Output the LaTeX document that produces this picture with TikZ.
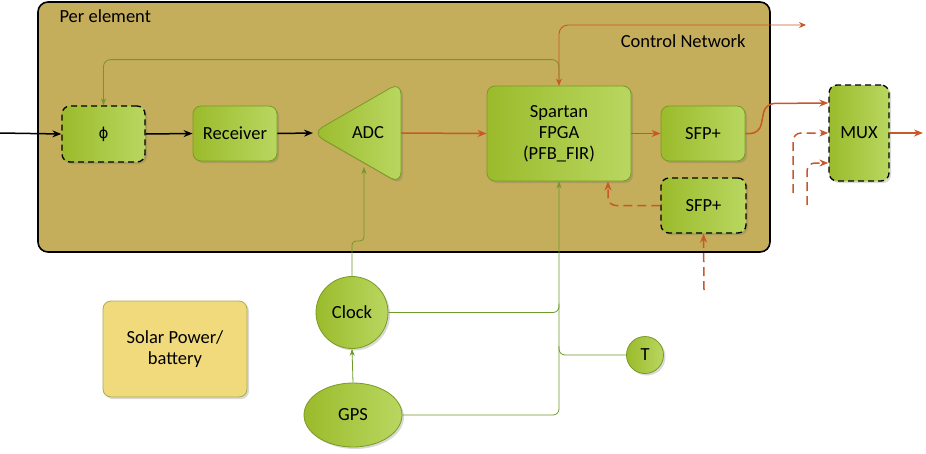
\documentclass[tikz,border=0pt]{standalone}
\usepackage{fontspec}
\setmainfont{Carlito}
\newfontfamily\dejavu{DejaVu Sans}
\usetikzlibrary{arrows.meta,shapes.geometric,shadows,calc}
\definecolor{olivebg}{HTML}{C4AD5B}
\definecolor{gdark}{HTML}{7A9A24}
\definecolor{gA}{HTML}{9BBB2C}
\definecolor{gB}{HTML}{B9D760}
\definecolor{orng}{HTML}{C8582A}
\definecolor{gline}{HTML}{6E9A2A}
\definecolor{solar}{HTML}{F1DA7C}
\definecolor{solarb}{HTML}{A8AC55}
\begin{document}
\begin{tikzpicture}[x=1pt,y=-1pt,font=\fontsize{18.5}{21}\selectfont,
  shad/.style={drop shadow={shadow xshift=2pt,shadow yshift=-2pt,opacity=0.25,fill=black!60}},
  gbox/.style={shad,draw=gdark,line width=0.8pt,rounded corners=8pt,left color=gA,right color=gB,inner sep=0pt,align=center},
  dashbox/.style={gbox,draw=black,line width=1.3pt,dash pattern=on 6pt off 4pt},
  gell/.style={shad,ellipse,draw=gdark,line width=0.8pt,left color=gA,right color=gB,inner sep=0pt},
  blk/.style={draw=black,line width=1.5pt,-{Stealth[length=9pt,width=7pt]}},
  org/.style={draw=orng,line width=1.5pt,-{Stealth[length=9pt,width=7pt]}},
  orgd/.style={org,dash pattern=on 9pt off 5pt},
  orgthin/.style={draw=orng,line width=0.9pt,{Stealth[length=7pt,width=6pt]}-{Stealth[length=7pt,width=6pt]}},
  gl/.style={draw=gline,line width=0.8pt},
  gla/.style={gl,-{Stealth[length=7pt,width=5pt]}}
]
\useasboundingbox (0,0) rectangle (926,453);
% outer panel
\draw[fill=olivebg,draw=black,line width=1.6pt,rounded corners=10pt] (38,2) rectangle (770,252);
\node[anchor=west] (per) at (56,16) {Per element};
\node[anchor=east] (cnt) at (749,41) {Control Network};
% nodes
\node[dashbox,minimum width=83pt,minimum height=56pt] (phi) at (103.5,134) {{\dejavu\fontsize{15}{18}\selectfont ϕ}};
\node[gbox,minimum width=84pt,minimum height=55pt] (rec) at (235,133.5) {Receiver};
\draw[shad,draw=gdark,line width=0.8pt,left color=gA,right color=gB,rounded corners=12pt]
  (312,133) -- (401,82) -- (401,184) -- cycle;
\coordinate (adctip) at (313,133);
\coordinate (adcr) at (401,133);
\coordinate (adcbot) at (364,167);
\node (adc) at (368,133) {ADC};
\node[gbox,minimum width=144pt,minimum height=95pt] (fpga) at (559,133.5) {Spartan\\FPGA\\(PFB\_FIR)};
\node[gbox,minimum width=84pt,minimum height=55pt] (sfp1) at (703,133.5) {SFP+};
\node[dashbox,minimum width=85pt,minimum height=55pt] (sfp2) at (703.5,205.5) {SFP+};
\node[dashbox,minimum width=60pt,minimum height=96pt] (mux) at (859,133) {MUX};
\node[gell,minimum width=72pt,minimum height=72pt] (clock) at (352,312.5) {Clock};
\node[gell,minimum width=98pt,minimum height=64pt] (gps) at (353,415) {GPS};
\node[gell,circle,minimum size=37pt] (t) at (645,355) {T};
\node[shad,draw=solarb,line width=0.8pt,fill=solar,rounded corners=8pt,minimum width=144pt,minimum height=96pt,align=center] (solarp) at (175,349) {Solar Power/\\battery};
% coordinates for free ends
\coordinate (in) at (0,133);
\coordinate (out) at (923,133);
\coordinate (cn) at (806,25);
\coordinate (d1) at (793,193);
\coordinate (d2) at (807,205);
\coordinate (d3) at (704,290);
% green control lines
\draw[gla,rounded corners=7pt] (fpga.north) -- ++(0,-26) -| (phi.north);
\draw[gla,rounded corners=6pt] (gps.east) -| (fpga.south);
\draw[gl,rounded corners=6pt] (clock.east) -| ($(fpga.south |- clock.east)+(0,-9)$);
\draw[gl,rounded corners=6pt] (t.west) -| ($(fpga.south |- t.west)+(0,-9)$);
\draw[gla] (gps.north) -- (clock.south);
\draw[gla,rounded corners=4pt] (clock.north) |- ($(adcbot)+(0,74)$) -- (adcbot);
% signal path
\draw[blk] (in) -- (phi.west);
\draw[blk] (phi.east) -- (rec.west);
\draw[blk] (rec.east) -- (adctip);
\draw[org] (adcr) -- (fpga.west);
\draw[org] (fpga.east) -- (sfp1.west);
\draw[org,rounded corners=9pt] (sfp1.east) -- ++(14,0) -- ++(6,-30) -- ($(mux.west)+(0,-30)$);
\draw[org] (mux.east) -- (out);
\draw[orgd,rounded corners=8pt] (d1) |- (mux.west);
\draw[orgd,rounded corners=8pt] (d2) |- ($(mux.west)+(0,30)$);
\draw[orgd,rounded corners=8pt] (sfp2.west) -| ($(fpga.south)+(49,0)$);
\draw[orgd] (d3) -- (sfp2.south);
\draw[orgthin,rounded corners=9pt] (fpga.north) |- (cn);
\end{tikzpicture}
\end{document}
